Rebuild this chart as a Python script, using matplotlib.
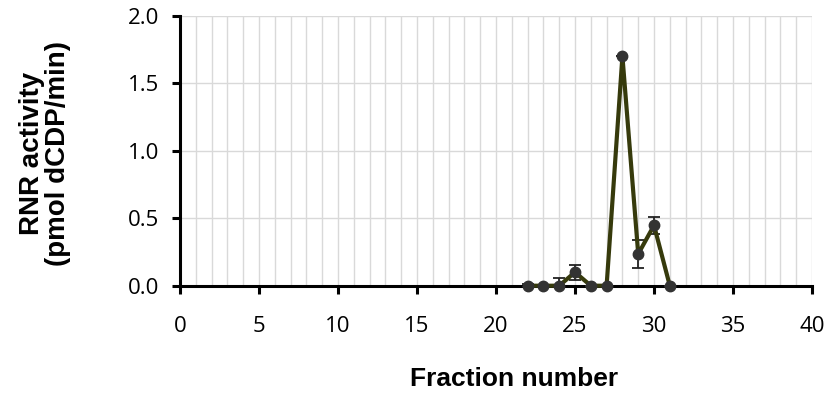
import numpy as np
import matplotlib
matplotlib.use("Agg")
from matplotlib import pyplot as plt
from matplotlib.ticker import MultipleLocator, FormatStrFormatter

fraction = [22, 23, 24, 25, 26, 27, 28, 29, 30, 31]
activity = [0.0, 0.0, 0.0, 0.10, 0.0, 0.0, 1.70, 0.235, 0.447, 0.0]
err      = [0.01, 0.0, 0.06, 0.055, 0.0, 0.0, 0.0, 0.105, 0.065, 0.0]

plt.rcParams['font.family'] = ['Open Sans', 'DejaVu Sans']

fig = plt.figure(figsize=(8.28, 3.93), dpi=100)
ax = fig.add_axes([0.2174, 0.273, 0.7633, 0.687])

ax.set_xlim(0, 40)
ax.set_ylim(0, 2.0)
ax.xaxis.set_major_locator(MultipleLocator(5))
ax.xaxis.set_minor_locator(MultipleLocator(1))
ax.yaxis.set_major_locator(MultipleLocator(0.5))
ax.yaxis.set_major_formatter(FormatStrFormatter('%.1f'))

ax.grid(True, which='both', axis='x', color='#d9d9d9', lw=1)
ax.grid(True, which='major', axis='y', color='#d9d9d9', lw=1)
ax.set_axisbelow(True)

for s in ['top', 'right']:
  ax.spines[s].set_visible(False)
for s in ['left', 'bottom']:
  ax.spines[s].set_linewidth(2.2)
  ax.spines[s].set_color('black')

ax.tick_params(which='major', direction='out', length=6, width=2.2, labelsize=16)
ax.tick_params(which='minor', length=0)
ax.tick_params(axis='x', pad=16)
ax.tick_params(axis='y', pad=9)

line, caps, bars = ax.errorbar(fraction, activity, yerr=err, color='#363a0c', lw=3,
                               marker='o', ms=7.5, mfc='#333333', mec='#333333',
                               ecolor='#222222', elinewidth=1.3, capsize=4, capthick=1.3,
                               zorder=5)
# markers sit on the axis line, keep them whole; error bars stay clipped
line.set_clip_on(False)

ax.set_xlabel('Fraction number', fontsize=19, fontweight='bold',
              family=['Liberation Sans'], va='top')
ax.xaxis.set_label_coords(0.528, -0.30)
ax.set_ylabel('RNR activity\n(pmol dCDP/min)', fontsize=20, fontweight='bold',
              family=['Liberation Sans'], linespacing=1.0)
ax.yaxis.set_label_coords(-0.172, 0.49)

fig.savefig('out.png', dpi=100)
